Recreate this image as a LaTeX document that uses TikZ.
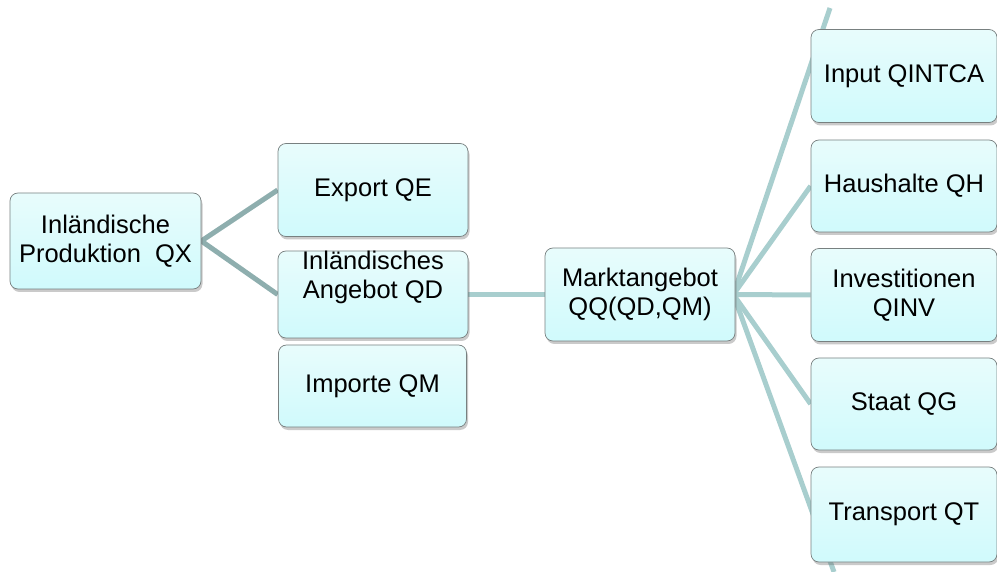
\documentclass[tikz,border=0pt]{standalone}
\usepackage{fontspec}
\setmainfont{Liberation Sans}
\usetikzlibrary{shadows}
\pgfdeclarelayer{background}
\pgfsetlayers{background,main}
\definecolor{boxtop}{RGB}{232,252,252}
\definecolor{boxbot}{RGB}{208,250,252}
\definecolor{boxline}{RGB}{120,128,128}
\definecolor{darkconn}{RGB}{142,174,174}
\definecolor{lightconn}{RGB}{168,206,206}
\tikzset{
  box/.style={draw=boxline, line width=0.7pt, rounded corners=8pt,
    top color=boxtop, bottom color=boxbot,
    minimum width=190pt, minimum height=93pt, inner sep=0pt, align=center,
    font=\fontsize{25.5}{29}\selectfont,
    drop shadow={shadow xshift=1.5pt, shadow yshift=-3pt, opacity=0.35, fill=black!60}},
  rbox/.style={box, minimum width=186pt},
  txt/.style={inner sep=0pt, align=center, font=\fontsize{25.5}{29}\selectfont},
  dconn/.style={draw=darkconn, line width=5pt},
  lconn/.style={draw=lightconn, line width=5pt},
}
\begin{document}
\begin{tikzpicture}[x=1pt,y=-1pt]
\useasboundingbox (0,0) rectangle (997,572);
\node[box, minimum width=191pt, minimum height=96pt] (qx) at (105.5,241) {Inländische\\Produktion\ \ QX};
\node[box] (qe) at (373,190) {Export QE};
\node[box, minimum height=87pt] (qd) at (373,294.5) {};
\node[txt] (qdt) at (373,277) {Inländisches\\Angebot QD};
\node[box, minimum width=188pt, minimum height=82pt] (qm) at (372.5,386) {Importe QM};
\node[box] (mk) at (640,294.5) {Marktangebot\\QQ(QD,QM)};
\node[rbox] (in) at (904,76) {Input QINTCA};
\node[rbox, minimum height=92pt] (hh) at (904,186) {Haushalte QH};
\node[rbox] (iv) at (904,295) {Investitionen\\QINV};
\node[rbox, minimum height=92pt] (st) at (904,404) {Staat QG};
\node[rbox, minimum height=95pt] (tr) at (904,514.5) {Transport QT};
\coordinate (topend) at (830,8);
\coordinate (botend) at (834,572);
\begin{pgfonlayer}{background}
\draw[dconn] (qx.east) -- (qe.west);
\draw[dconn] (qx.east) -- (qd.west);
\draw[lconn] (qd.east) -- (mk.west);
\draw[lconn] ([xshift=-2pt]mk.east) -- (topend);
\draw[lconn] ([xshift=-2pt]mk.east) -- (hh.west);
\draw[lconn] ([xshift=-2pt]mk.east) -- (iv.west);
\draw[lconn] ([xshift=-2pt]mk.east) -- (st.west);
\draw[lconn] ([xshift=-2pt]mk.east) -- (botend);
\end{pgfonlayer}
\end{tikzpicture}
\end{document}
